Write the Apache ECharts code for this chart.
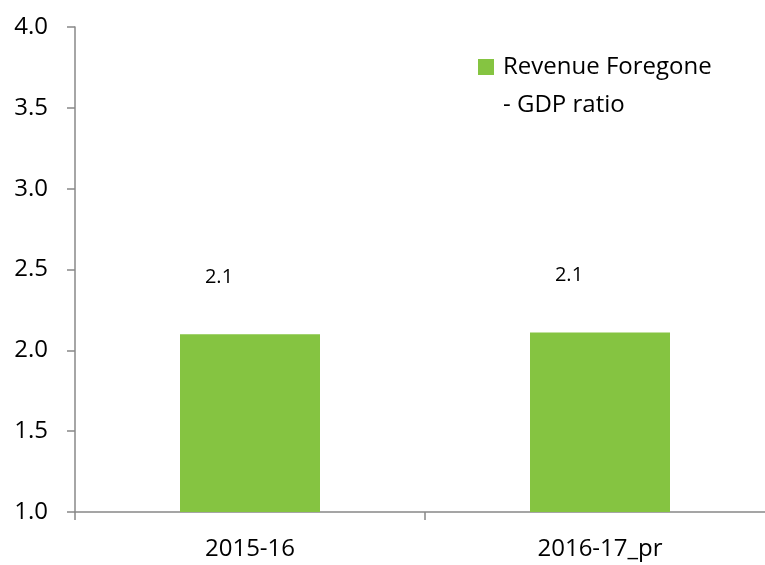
<!DOCTYPE html>
<html>
<head>
<meta charset="utf-8">
<script src="https://cdn.jsdelivr.net/npm/echarts@6/dist/echarts.min.js"></script>
<style>
html,body{margin:0;padding:0;background:#fff;}
#chart{width:765px;height:565px;}
</style>
</head>
<body>
<div id="chart"></div>
<script>
var categories = ['2015-16', '2016-17_pr'];
var seriesName = 'Revenue Foregone\n- GDP ratio';
var values = [2.10, 2.11];
var yMin = 1.0, yMax = 4.0, yStep = 0.5;

var chart = echarts.init(document.getElementById('chart'), null, {renderer: 'canvas'});
var FONT = 'Open Sans';
var option = {
  animation: false,
  backgroundColor: '#ffffff',
  grid: {left: 75, width: 700, top: 27, bottom: 53, containLabel: false, outerBoundsMode: 'none'},
  legend: {
    left: 478, top: 48, padding: 0,
    itemWidth: 16, itemHeight: 54,
    icon: 'path://M0,0h16v16h-16zM0,54h16v0.001h-16z',
    data: [seriesName],
    textStyle: {fontFamily: FONT, fontSize: 24, color: '#000', lineHeight: 38, padding: [0, 0, 0, 4]}
  },
  xAxis: {
    type: 'category',
    data: categories,
    axisLine: {lineStyle: {color: '#888888', width: 1.5}},
    axisTick: {show: true, length: 8, lineStyle: {color: '#888888', width: 1.5}},
    axisLabel: {fontFamily: FONT, fontSize: 24, color: '#000', margin: 25}
  },
  yAxis: {
    type: 'value', min: yMin, max: yMax, interval: yStep,
    splitLine: {show: false},
    axisLine: {show: true, lineStyle: {color: '#888888', width: 1.5}},
    axisTick: {show: true, length: 8, lineStyle: {color: '#888888', width: 1.5}},
    axisLabel: {fontFamily: FONT, fontSize: 24, color: '#000', margin: 27,
      formatter: function (v) { return v.toFixed(1); }}
  },
  series: [{
    name: seriesName,
    type: 'bar',
    data: values,
    barCategoryGap: '60%',
    itemStyle: {color: '#85C441'},
    label: {
      show: true, position: 'top', distance: 5, offset: [-31, -42],
      fontFamily: FONT, fontSize: 20, color: '#000',
      formatter: function (p) { return p.value.toFixed(1); }
    }
  }]
};
chart.setOption(option);
</script>
</body>
</html>
